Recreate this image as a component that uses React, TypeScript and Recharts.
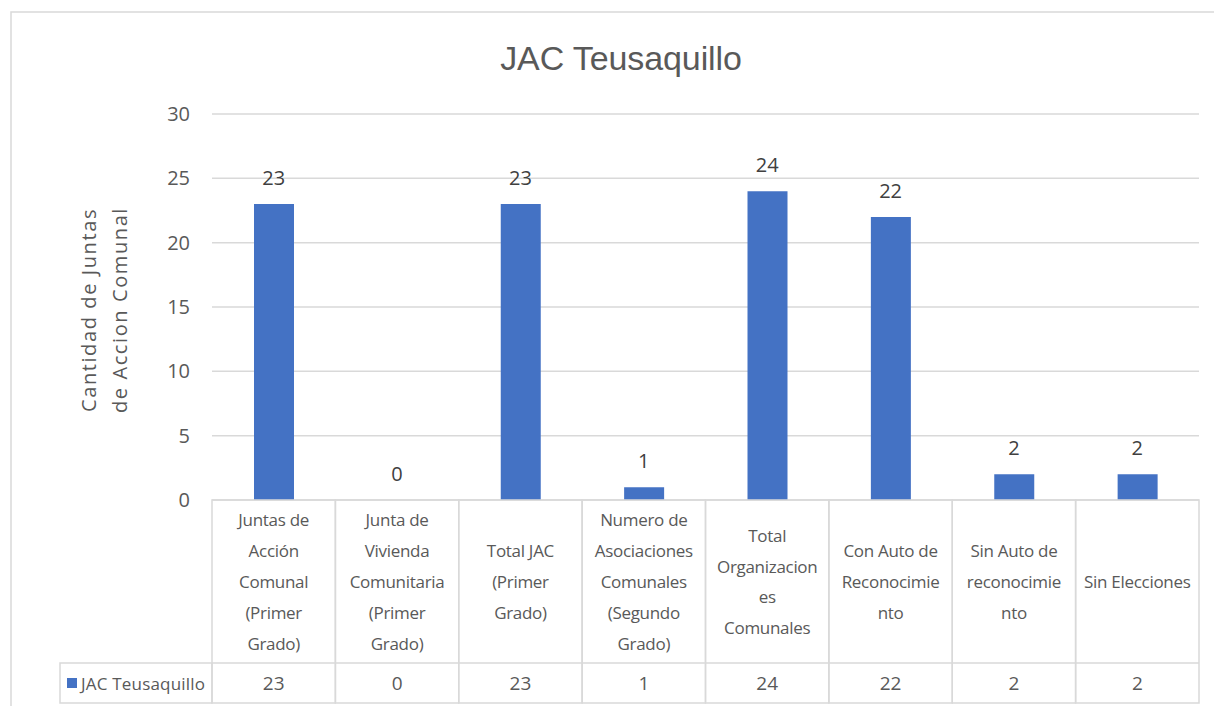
import React from 'react';
import { ComposedChart, Bar, Line, XAxis, YAxis, CartesianGrid, LabelList, Customized } from 'recharts';

const categories = [
  'Juntas de Acción Comunal (Primer Grado)',
  'Junta de Vivienda Comunitaria (Primer Grado)',
  'Total JAC (Primer Grado)',
  'Numero de Asociaciones Comunales (Segundo Grado)',
  'Total Organizaciones Comunales',
  'Con Auto de Reconocimiento',
  'Sin Auto de reconocimiento',
  'Sin Elecciones',
];
const categoryLines = [
  ['Juntas de', 'Acción', 'Comunal', '(Primer', 'Grado)'],
  ['Junta de', 'Vivienda', 'Comunitaria', '(Primer', 'Grado)'],
  ['Total JAC', '(Primer', 'Grado)'],
  ['Numero de', 'Asociaciones', 'Comunales', '(Segundo', 'Grado)'],
  ['Total', 'Organizacion', 'es', 'Comunales'],
  ['Con Auto de', 'Reconocimie', 'nto'],
  ['Sin Auto de', 'reconocimie', 'nto'],
  ['Sin Elecciones'],
];
const seriesName = 'JAC Teusaquillo';
const values = [23, 0, 23, 1, 24, 22, 2, 2];
const yTicks = [0, 5, 10, 15, 20, 25, 30];

const data = categories.map((c, i) => ({ name: c, value: values[i] }));

const W = 1214;
const H = 706;
const X_H = 206;
const M = { top: 114, right: 15, left: 172, bottom: 0 };
const Y_W = 40;
const PLOT_L = M.left + Y_W;
const PLOT_R = W - M.right;
const PLOT_B = H - X_H;
const BAND = (PLOT_R - PLOT_L) / categories.length;
const HEADER_H = 163;
const ROW_H = 40;
const GRID = '#d9d9d9';
const TXT = '#595959';
const BLUE = '#4472C4';
const FONT = '"Open Sans", "Noto Sans", sans-serif';
const SANS = '"Liberation Sans", Arial, sans-serif';

const TableTick = (props: any) => {
  const { x, index } = props;
  const left = x - BAND / 2;
  const top = PLOT_B;
  const lines = categoryLines[index] || [];
  const lh = 30.8;
  const cy = top + HEADER_H / 2;
  const start = cy - ((lines.length - 1) * lh) / 2;
  return (
    <g>
      <rect x={left} y={top} width={BAND} height={HEADER_H + ROW_H} fill="none" stroke={GRID} strokeWidth={1.5} />
      <line x1={left} x2={left + BAND} y1={top + HEADER_H} y2={top + HEADER_H} stroke={GRID} strokeWidth={1.5} />
      {lines.map((l, i) => (
        <text key={i} x={x} y={start + i * lh} textAnchor="middle" dominantBaseline="central" fontFamily={FONT} fontSize={17} fill={TXT} letterSpacing={-0.3}>
          {l}
        </text>
      ))}
      <text x={x} y={top + HEADER_H + ROW_H / 2} textAnchor="middle" dominantBaseline="central" fontFamily={FONT} fontSize={19} fill={TXT}>
        {values[index]}
      </text>
    </g>
  );
};

const LegendCell = () => {
  const top = PLOT_B + HEADER_H;
  const left = 60;
  return (
    <g>
      <rect x={left} y={top} width={PLOT_L - left} height={ROW_H} fill="none" stroke={GRID} strokeWidth={1.5} />
      <rect x={67} y={top + 15} width={10} height={10} fill={BLUE} />
      <text x={81} y={top + ROW_H / 2} dominantBaseline="central" fontFamily={FONT} fontSize={17} fill={TXT} letterSpacing={0.2}>
        {seriesName}
      </text>
    </g>
  );
};

const Frame = () => (
  <g>
    <rect x={11} y={12} width={W + 20} height={H + 20} fill="none" stroke="#d9d9d9" strokeWidth={1.5} />
    <text x={621} y={58} textAnchor="middle" dominantBaseline="central" fontFamily={SANS} fontSize={34} fill={TXT} letterSpacing={-0.1}>
      {seriesName}
    </text>
    <text transform="translate(88,310) rotate(-90)" textAnchor="middle" dominantBaseline="central" fontFamily={FONT} fontSize={20} fill={TXT} letterSpacing={1.6}>
      Cantidad de Juntas
    </text>
    <text transform="translate(119,310) rotate(-90)" textAnchor="middle" dominantBaseline="central" fontFamily={FONT} fontSize={20} fill={TXT} letterSpacing={1.6}>
      de Accion Comunal
    </text>
  </g>
);

export default function App() {
  return (
    <div style={{ position: 'absolute', left: 0, top: 0, background: '#fff' }}>
      <ComposedChart width={W} height={H} data={data} margin={M} barCategoryGap={0}>
        <Customized component={Frame} />
        <CartesianGrid horizontal vertical={false} stroke={GRID} strokeWidth={1.5} />
        <YAxis
          width={Y_W}
          domain={[0, 30]}
          ticks={yTicks}
          axisLine={false}
          tickLine={false}
          tickSize={0}
          tickMargin={22}
          tick={{ fill: TXT, fontSize: 20, fontFamily: FONT }}
        />
        <XAxis
          dataKey="name"
          height={X_H}
          axisLine={false}
          tickLine={false}
          interval={0}
          tick={<TableTick />}
        />
        <Bar dataKey="value" fill={BLUE} barSize={40} isAnimationActive={false} />
        <Line dataKey="value" stroke="none" dot={false} activeDot={false} isAnimationActive={false} legendType="none">
          <LabelList dataKey="value" position="top" offset={19} fill="#404040" fontSize={20} fontFamily={FONT} />
        </Line>
        <Customized component={LegendCell} />
      </ComposedChart>
    </div>
  );
}
